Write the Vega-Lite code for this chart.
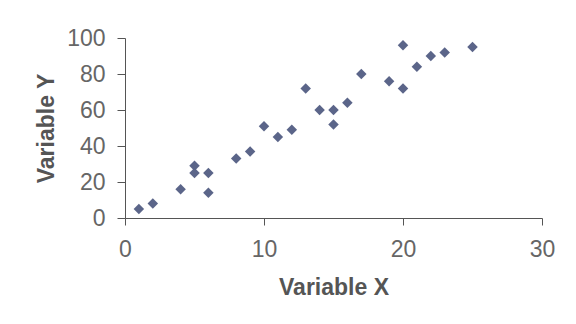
{
  "$schema": "https://vega.github.io/schema/vega-lite/v6.json",
  "width": 417,
  "height": 180,
  "autosize": "none",
  "padding": {"left": 125, "top": 38, "right": 34, "bottom": 106},
  "background": "white",
  "config": {
    "view": {"stroke": null},
    "font": "Liberation Sans"
  },
  "data": {
    "values": [
      {"x": 1, "y": 5}, {"x": 2, "y": 8}, {"x": 4, "y": 16}, {"x": 5, "y": 29},
      {"x": 5, "y": 25}, {"x": 6, "y": 25}, {"x": 6, "y": 14}, {"x": 8, "y": 33},
      {"x": 9, "y": 37}, {"x": 10, "y": 51}, {"x": 11, "y": 45}, {"x": 12, "y": 49},
      {"x": 13, "y": 72}, {"x": 14, "y": 60}, {"x": 15, "y": 60}, {"x": 15, "y": 52},
      {"x": 16, "y": 64}, {"x": 17, "y": 80}, {"x": 19, "y": 76}, {"x": 20, "y": 96},
      {"x": 20, "y": 72}, {"x": 21, "y": 84}, {"x": 22, "y": 90}, {"x": 23, "y": 92},
      {"x": 25, "y": 95}
    ]
  },
  "mark": {"type": "point", "shape": "diamond", "filled": true, "size": 110, "color": "#5b6589", "opacity": 1},
  "encoding": {
    "x": {
      "field": "x", "type": "quantitative",
      "scale": {"domain": [0, 30], "nice": false, "zero": true},
      "axis": {
        "title": "Variable X", "values": [0, 10, 20, 30], "grid": false,
        "labelFlush": false,
        "domainColor": "#555", "tickColor": "#555", "tickSize": 7,
        "labelFont": "Liberation Sans Narrow, Liberation Sans", "labelFontSize": 23, "labelColor": "#666", "labelPadding": 13,
        "titleFontSize": 23, "titleFontWeight": "bold", "titleColor": "#555", "titlePadding": 15
      }
    },
    "y": {
      "field": "y", "type": "quantitative",
      "scale": {"domain": [0, 100], "nice": false},
      "axis": {
        "title": "Variable Y", "values": [0, 20, 40, 60, 80, 100], "grid": false,
        "labelFlush": false,
        "domainColor": "#555", "tickColor": "#555", "tickSize": 8,
        "labelFont": "Liberation Sans Narrow, Liberation Sans", "labelFontSize": 23, "labelColor": "#666", "labelPadding": 12,
        "titleFontSize": 23, "titleFontWeight": "bold", "titleColor": "#555", "titlePadding": 8
      }
    }
  }
}
